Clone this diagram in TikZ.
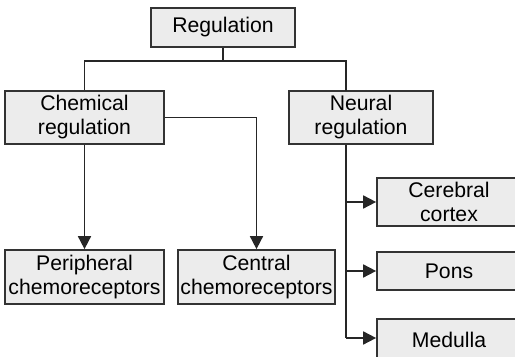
\documentclass[tikz,border=0pt]{standalone}
\usepackage{fontspec}
\setmainfont{Liberation Sans}
\usetikzlibrary{arrows.meta}
\begin{document}
\begin{tikzpicture}[x=0.5pt,y=-0.5pt,
    box/.style={draw=black!80,line width=0.85pt,fill=gray!15,inner sep=0pt,
      align=center,font=\fontsize{10.6}{12}\selectfont},
    link/.style={draw=black!85,line width=0.85pt},
    arr/.style={link,-{Triangle[length=6.5pt,width=6.5pt]}}]
  \useasboundingbox (0,0) rectangle (515,357);
  \clip (0,0) rectangle (515,357);
  % boxes
  \node[box,minimum width=72pt,minimum height=19.5pt] (reg) at (223,27.5) {Regulation};
  \node[box,minimum width=79.5pt,minimum height=26.5pt] (chem) at (84.5,117.5) {Chemical\\regulation};
  \node[box,minimum width=72pt,minimum height=26.5pt] (neur) at (361,117.5) {Neural\\regulation};
  \node[box,minimum width=79.5pt,minimum height=27pt] (peri) at (84.5,277) {Peripheral\\chemoreceptors};
  \node[box,minimum width=78.5pt,minimum height=27pt] (cent) at (256.5,277) {Central\\chemoreceptors};
  \node[box,minimum width=72pt,minimum height=24pt] (cere) at (449,202) {Cerebral\\cortex};
  \node[box,minimum width=72pt,minimum height=19pt] (pons) at (449,271) {Pons};
  \node[box,minimum width=72pt,minimum height=20.5pt] (medu) at (449,339.5) {Medulla};
  \coordinate (split) at (223,61);
  \coordinate (ntop) at (346,91);
  \coordinate (nbot) at (346,338);
  % links
  \draw[link] (reg.south) -- (split) -| (chem.north);
  \draw[link] (split) -| (ntop);
  \draw[arr] (chem.south) -- (peri.north);
  \draw[arr] (chem.east) -| (cent.north);
  \draw[link] (ntop |- neur.south) -- (nbot);
  \draw[arr] (ntop |- cere.west) -- (cere.west);
  \draw[arr] (ntop |- pons.west) -- (pons.west);
  \draw[arr] (nbot) -- (nbot -| medu.west);
\end{tikzpicture}
\end{document}
